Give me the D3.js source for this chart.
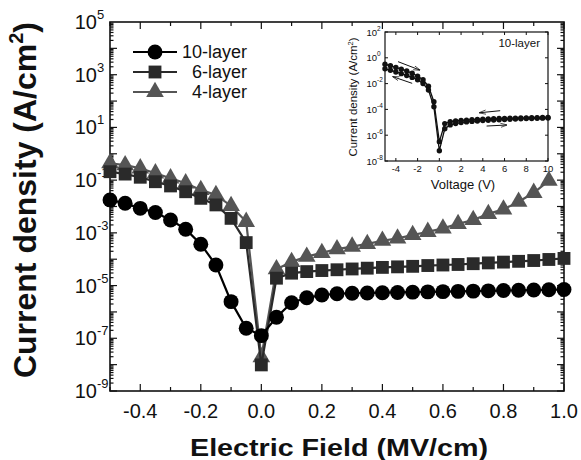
<!DOCTYPE html>
<html>
<head>
<meta charset="UTF-8">
<script src="https://d3js.org/d3.v7.min.js"></script>
<style>
  body { margin: 0; background: #fff; }
  text { font-family: "Liberation Sans", Arial, sans-serif; fill: #111; }
</style>
</head>
<body>
<div id="chart"></div>
<script>
// Electric field (MV/cm) and log10 of current density (A/cm^2)
const field = [-0.5, -0.45, -0.4, -0.35, -0.3, -0.25, -0.2, -0.15, -0.1, -0.05, 0.0,
               0.05, 0.1, 0.15, 0.2, 0.25, 0.3, 0.35, 0.4, 0.45, 0.5, 0.55, 0.6,
               0.65, 0.7, 0.75, 0.8, 0.85, 0.9, 0.95, 1.0];
const logJ10 = [-1.75, -1.88, -2.07, -2.23, -2.51, -2.86, -3.43, -4.22, -5.61, -6.62, -6.9,
                -6.2, -5.65, -5.46, -5.36, -5.31, -5.29, -5.28, -5.27, -5.26, -5.25, -5.24, -5.23,
                -5.22, -5.21, -5.2, -5.19, -5.18, -5.17, -5.16, -5.15];
const logJ6 = [-0.68, -0.77, -0.89, -1.06, -1.22, -1.44, -1.69, -1.94, -2.45, -3.37, -8.01,
               -4.72, -4.53, -4.47, -4.43, -4.4, -4.37, -4.34, -4.31, -4.29, -4.27, -4.24, -4.22,
               -4.2, -4.17, -4.14, -4.11, -4.08, -4.05, -4.01, -3.97];
const logJ4 = [-0.36, -0.43, -0.55, -0.74, -0.93, -1.12, -1.37, -1.56, -1.98, -2.58, -7.72,
               -4.38, -4.1, -3.9, -3.76, -3.62, -3.52, -3.42, -3.3, -3.21, -3.08, -2.96, -2.83,
               -2.66, -2.51, -2.28, -2.11, -1.82, -1.48, -1.02];

const xTicks = [-0.4, -0.2, 0.0, 0.2, 0.4, 0.6, 0.8, 1.0];
const yTickExp = [5, 3, 1, -1, -3, -5, -7, -9];
const seriesNames = ["10-layer", "6-layer", "4-layer"];

// inset: 10-layer sweep, voltage (V) and log10 J for both branches
const insetV = [-5, -4.5, -4, -3.5, -3, -2.5, -2, -1.5, -1, -0.5, 0,
                0.5, 1, 1.5, 2, 2.5, 3, 3.5, 4, 4.5, 5, 5.5, 6, 6.5, 7, 7.5, 8, 8.5, 9, 9.5, 10];
const insetUp = [-0.5, -0.62, -0.75, -0.88, -1.02, -1.2, -1.42, -1.7, -2.2, -3.4, -6.5,
                 -5.1, -4.95, -4.9, -4.86, -4.83, -4.8, -4.78, -4.76, -4.74, -4.72, -4.71, -4.7,
                 -4.69, -4.68, -4.67, -4.66, -4.65, -4.64, -4.63, -4.62];
const insetDown = [-0.85, -0.97, -1.1, -1.23, -1.37, -1.52, -1.7, -2.0, -2.5, -3.8, -7.2,
                   -5.5, -5.2, -5.1, -5.02, -4.97, -4.93, -4.9, -4.87, -4.84, -4.82, -4.8, -4.78,
                   -4.76, -4.74, -4.72, -4.71, -4.7, -4.69, -4.68, -4.67];
const insetXTicks = [-4, -2, 0, 2, 4, 6, 8, 10];
const insetYTickExp = [2, 0, -2, -4, -6, -8];
// sweep arrows [x1, logJ1, x2, logJ2] (head at second point)
const insetArrows = [[-3.8, -0.3, -1.8, -0.95], [-2.5, -1.98, -4.26, -1.47],
                     [5.6, -4.1, 3.7, -4.26], [4.35, -5.29, 6.2, -5.21]];

const W = 581, H = 460;
const svg = d3.select("#chart").append("svg")
  .attr("width", W).attr("height", H);

const mLeft = 110, mRight = 564, mTop = 22, mBottom = 391;
const x = d3.scaleLinear().domain([-0.5, 1.0]).range([mLeft, mRight]);
const y = d3.scaleLog().domain([1e-9, 1e5]).range([mBottom, mTop]);

// ticks, inward on all four sides
const tk = svg.append("g").attr("stroke", "#111").attr("stroke-width", 1.2);
d3.range(-0.5, 1.0001, 0.1).forEach(v => {
  const major = xTicks.some(t => Math.abs(t - v) < 1e-6);
  const len = major ? 7 : 4;
  tk.append("line").attr("x1", x(v)).attr("x2", x(v)).attr("y1", mBottom).attr("y2", mBottom - len);
  tk.append("line").attr("x1", x(v)).attr("x2", x(v)).attr("y1", mTop).attr("y2", mTop + len);
});
for (let e = -9; e < 5; e++) {
  for (let m = 1; m < 10; m++) {
    const yy = y(m * Math.pow(10, e));
    const len = m === 1 ? 7 : 3.5;
    tk.append("line").attr("x1", mLeft).attr("x2", mLeft + len).attr("y1", yy).attr("y2", yy);
    tk.append("line").attr("x1", mRight).attr("x2", mRight - len).attr("y1", yy).attr("y2", yy);
  }
}

svg.append("rect")
  .attr("x", mLeft).attr("y", mTop)
  .attr("width", mRight - mLeft).attr("height", mBottom - mTop)
  .attr("fill", "none").attr("stroke", "#111").attr("stroke-width", 1.6);

// tick labels
svg.append("g").selectAll("text").data(xTicks).enter().append("text")
  .attr("x", d => x(d)).attr("y", 418)
  .attr("text-anchor", "middle").attr("font-size", 20)
  .text(d => d.toFixed(1));

const yl = svg.append("g").selectAll("g").data(yTickExp).enter().append("g");
yl.append("text")
  .attr("x", 97).attr("y", d => y(Math.pow(10, d)) + 7)
  .attr("text-anchor", "end").attr("font-size", 20)
  .text("10");
yl.append("text")
  .attr("x", 97).attr("y", d => y(Math.pow(10, d)) - 3)
  .attr("font-size", 13)
  .text(d => d < 0 ? "-" + (-d) : d);

// axis titles
svg.append("text")
  .attr("x", 339).attr("y", 456)
  .attr("text-anchor", "middle").attr("font-size", 24).attr("font-weight", "bold")
  .attr("textLength", 298).attr("lengthAdjust", "spacingAndGlyphs")
  .text("Electric Field (MV/cm)");

const yt = svg.append("text")
  .attr("transform", "translate(36,200) rotate(-90)")
  .attr("text-anchor", "middle").attr("font-size", 32).attr("font-weight", "bold");
yt.append("tspan").text("Current density (A/cm");
yt.append("tspan").attr("font-size", 20).attr("dy", -13).text("2");
yt.append("tspan").attr("dy", 13).text(")");

// series
const colors = ["#000", "#2a2a2a", "#555"];
const series = [
  {name: seriesNames[0], vals: logJ10, color: colors[0], shape: d3.symbolCircle, size: 175},
  {name: seriesNames[1], vals: logJ6, color: colors[1], shape: d3.symbolSquare, size: 165},
  {name: seriesNames[2], vals: logJ4, color: colors[2], shape: d3.symbolTriangle, size: 135}
];
const line = d3.line().x(d => x(d[0])).y(d => y(Math.pow(10, d[1])));

series.slice().reverse().forEach(s => {
  const pts = s.vals.map((v, i) => [field[i], v]);
  const g = svg.append("g");
  g.append("path").datum(pts).attr("d", line)
    .attr("fill", "none").attr("stroke", s.color).attr("stroke-width", 2.2);
  g.selectAll("path.pt").data(pts).enter().append("path")
    .attr("class", "pt")
    .attr("d", d3.symbol().type(s.shape).size(s.size))
    .attr("transform", d => `translate(${x(d[0])},${y(Math.pow(10, d[1]))})`)
    .attr("fill", s.color);
});

// legend
const lg = svg.append("g");
series.forEach((s, i) => {
  const ly = 52 + i * 20;
  lg.append("line").attr("x1", 133).attr("x2", 177).attr("y1", ly).attr("y2", ly)
    .attr("stroke", s.color).attr("stroke-width", 2.2);
  lg.append("path").attr("d", d3.symbol().type(s.shape).size(s.size))
    .attr("transform", `translate(155,${ly})`).attr("fill", s.color);
  lg.append("text").attr("x", 247).attr("y", ly + 6)
    .attr("text-anchor", "end").attr("font-size", 18).text(s.name);
});

// inset
const iL = 385, iR = 548, iT = 32, iB = 161;
const ix = d3.scaleLinear().domain([-5, 10]).range([iL, iR]);
const iy = d3.scaleLog().domain([1e-8, 1e2]).range([iB, iT]);
const ins = svg.append("g");
ins.append("rect").attr("x", iL).attr("y", iT).attr("width", iR - iL).attr("height", iB - iT)
  .attr("fill", "#fff").attr("stroke", "#111").attr("stroke-width", 1.2);
insetXTicks.forEach(v => {
  ins.append("line").attr("x1", ix(v)).attr("x2", ix(v)).attr("y1", iB).attr("y2", iB - 3)
    .attr("stroke", "#111");
  ins.append("line").attr("x1", ix(v)).attr("x2", ix(v)).attr("y1", iT).attr("y2", iT + 3)
    .attr("stroke", "#111");
  ins.append("text").attr("x", ix(v)).attr("y", 172).attr("text-anchor", "middle")
    .attr("font-size", 9.5).text(v);
});
insetYTickExp.forEach(e => {
  const yy = iy(Math.pow(10, e));
  ins.append("line").attr("x1", iL).attr("x2", iL + 3).attr("y1", yy).attr("y2", yy).attr("stroke", "#111");
  ins.append("line").attr("x1", iR).attr("x2", iR - 3).attr("y1", yy).attr("y2", yy).attr("stroke", "#111");
  ins.append("text").attr("x", 377).attr("y", yy + 3.5).attr("text-anchor", "end")
    .attr("font-size", 9.5).text("10");
  ins.append("text").attr("x", 377).attr("y", yy - 1.5).attr("font-size", 6.5)
    .text(e < 0 ? "-" + (-e) : e);
});
const iline = d3.line().x(d => ix(d[0])).y(d => iy(Math.pow(10, d[1])));
[insetUp, insetDown].forEach(br => {
  const pts = br.map((v, i) => [insetV[i], v]);
  ins.append("path").datum(pts).attr("d", iline)
    .attr("fill", "none").attr("stroke", "#111").attr("stroke-width", 1.3);
  ins.selectAll(null).data(pts).enter().append("circle")
    .attr("cx", d => ix(d[0])).attr("cy", d => iy(Math.pow(10, d[1])))
    .attr("r", 2.7).attr("fill", "#111");
});
svg.append("defs").append("marker")
  .attr("id", "ah").attr("viewBox", "0 0 10 10").attr("refX", 9).attr("refY", 5)
  .attr("markerWidth", 7).attr("markerHeight", 7).attr("orient", "auto")
  .append("path").attr("d", "M0,2 L10,5 L0,8").attr("fill", "none").attr("stroke", "#111");
insetArrows.forEach(a => {
  ins.append("line")
    .attr("x1", ix(a[0])).attr("y1", iy(Math.pow(10, a[1])))
    .attr("x2", ix(a[2])).attr("y2", iy(Math.pow(10, a[3])))
    .attr("stroke", "#111").attr("stroke-width", 1).attr("marker-end", "url(#ah)");
});
ins.append("text").attr("x", 540).attr("y", 47).attr("text-anchor", "end")
  .attr("font-size", 11.5).text("10-layer");
ins.append("text").attr("x", 463).attr("y", 189).attr("text-anchor", "middle")
  .attr("font-size", 13).text("Voltage (V)");
const it = ins.append("text").attr("transform", "translate(357,97) rotate(-90)")
  .attr("text-anchor", "middle").attr("font-size", 11.5);
it.append("tspan").text("Current density (A/cm");
it.append("tspan").attr("font-size", 7.5).attr("dy", -4.5).text("2");
it.append("tspan").attr("dy", 4.5).text(")");
</script>
</body>
</html>
